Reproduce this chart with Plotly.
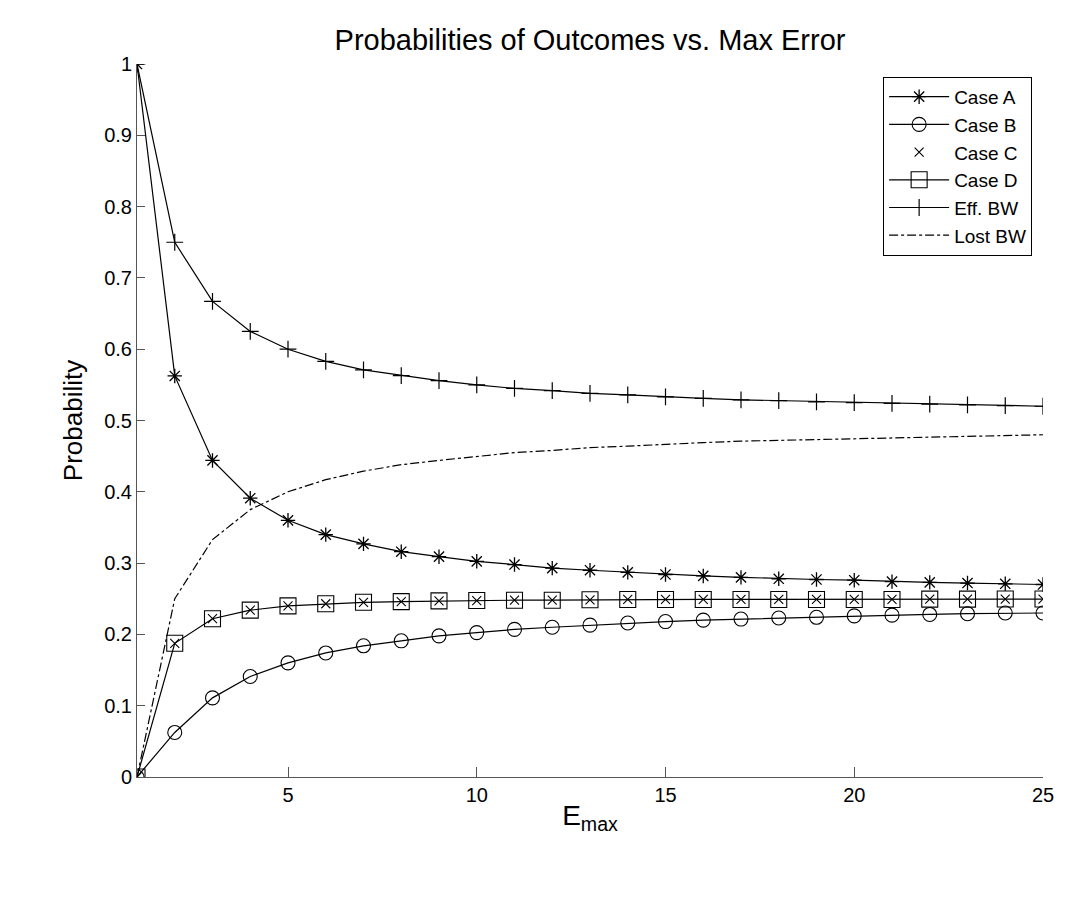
import plotly.graph_objects as go

emax = list(range(1, 26))

case_a = [1.000, 0.5625, 0.444, 0.391, 0.360, 0.340, 0.327, 0.316, 0.309, 0.3025,
          0.298, 0.293, 0.290, 0.287, 0.284, 0.282, 0.280, 0.278, 0.277, 0.276,
          0.274, 0.273, 0.272, 0.271, 0.270]
case_b = [0.000, 0.0625, 0.111, 0.141, 0.160, 0.174, 0.184, 0.191, 0.198, 0.2025,
          0.207, 0.210, 0.213, 0.216, 0.218, 0.220, 0.2215, 0.223, 0.224, 0.226,
          0.227, 0.228, 0.229, 0.230, 0.230]
case_c = [0.000, 0.1875, 0.222, 0.234, 0.240, 0.243, 0.245, 0.246, 0.247, 0.2475,
          0.248, 0.248, 0.2485, 0.249, 0.249, 0.249, 0.249, 0.249, 0.249, 0.249,
          0.249, 0.2495, 0.2495, 0.2496, 0.2496]
case_d = list(case_c)
eff_bw = [1.000, 0.750, 0.667, 0.625, 0.600, 0.583, 0.571, 0.563, 0.556, 0.550,
          0.545, 0.542, 0.538, 0.536, 0.533, 0.531, 0.529, 0.528, 0.526, 0.525,
          0.524, 0.523, 0.522, 0.521, 0.520]
lost_bw = [0.000, 0.250, 0.333, 0.375, 0.400, 0.417, 0.429, 0.438, 0.444, 0.450,
           0.455, 0.458, 0.462, 0.464, 0.467, 0.469, 0.471, 0.472, 0.474, 0.475,
           0.476, 0.477, 0.478, 0.479, 0.480]

x_ticks = [5, 10, 15, 20, 25]
y_ticks = [0, 0.1, 0.2, 0.3, 0.4, 0.5, 0.6, 0.7, 0.8, 0.9, 1]
y_tick_text = ["0", "0.1", "0.2", "0.3", "0.4", "0.5", "0.6", "0.7", "0.8", "0.9", "1"]

FONT = "Liberation Sans, Arial, Helvetica, sans-serif"
LW = 1.2

fig = go.Figure()
fig.add_trace(go.Scatter(x=emax, y=case_a, name="Case A", mode="lines+markers",
                         line=dict(color="black", width=LW),
                         marker=dict(symbol="asterisk-open", size=12, color="black",
                                     line=dict(color="black", width=1.3))))
fig.add_trace(go.Scatter(x=emax, y=case_b, name="Case B", mode="lines+markers",
                         line=dict(color="black", width=LW),
                         marker=dict(symbol="circle-open", size=14, color="black",
                                     line=dict(color="black", width=1.1))))
fig.add_trace(go.Scatter(x=emax, y=case_c, name="Case C", mode="markers",
                         marker=dict(symbol="x-thin-open", size=9, color="black",
                                     line=dict(color="black", width=1.1))))
fig.add_trace(go.Scatter(x=emax, y=case_d, name="Case D", mode="lines+markers",
                         line=dict(color="black", width=LW),
                         marker=dict(symbol="square-open", size=16, color="black",
                                     line=dict(color="black", width=1.1))))
fig.add_trace(go.Scatter(x=emax, y=eff_bw, name="Eff. BW", mode="lines+markers",
                         line=dict(color="black", width=LW),
                         marker=dict(symbol="cross-thin-open", size=12, color="black",
                                     line=dict(color="black", width=1.2))))
fig.add_trace(go.Scatter(x=emax, y=lost_bw, name="Lost BW", mode="lines",
                         line=dict(color="black", width=LW, dash="dashdot")))

fig.update_layout(
    width=1084, height=921,
    margin=dict(l=137, r=41, t=64, b=144),
    paper_bgcolor="white", plot_bgcolor="white",
    font=dict(family=FONT, color="black"),
    title=dict(text="Probabilities of Outcomes vs. Max Error", xref="paper", x=0.5,
               xanchor="center", y=0.9566, yanchor="middle",
               font=dict(size=29, family=FONT, color="black")),
    showlegend=True,
    legend=dict(x=0.988, xanchor="right", y=0.982, yanchor="top",
                bgcolor="white", bordercolor="black", borderwidth=1,
                font=dict(size=19, family=FONT, color="black"),
                itemwidth=60, tracegroupgap=0),
)
fig.update_xaxes(range=[1, 25], tickmode="array", tickvals=x_ticks,
                 ticks="inside", ticklen=10, tickcolor="#555", tickwidth=1,
                 showline=True, linecolor="#555", linewidth=1, mirror=False,
                 showgrid=False, zeroline=False,
                 tickfont=dict(size=20, family=FONT, color="black"),
                 title=dict(text="E<sub>max</sub>", font=dict(size=28, family=FONT, color="black"),
                            standoff=0))
fig.update_yaxes(range=[0, 1], tickmode="array", tickvals=y_ticks, ticktext=y_tick_text,
                 ticks="inside", ticklen=8, tickcolor="#555", tickwidth=1,
                 showline=True, linecolor="#555", linewidth=1, mirror=False,
                 showgrid=False, zeroline=False,
                 tickfont=dict(size=20, family=FONT, color="black"),
                 title=dict(text="Probability", font=dict(size=26, family=FONT, color="black"),
                            standoff=14))

fig.write_html("out.html")
